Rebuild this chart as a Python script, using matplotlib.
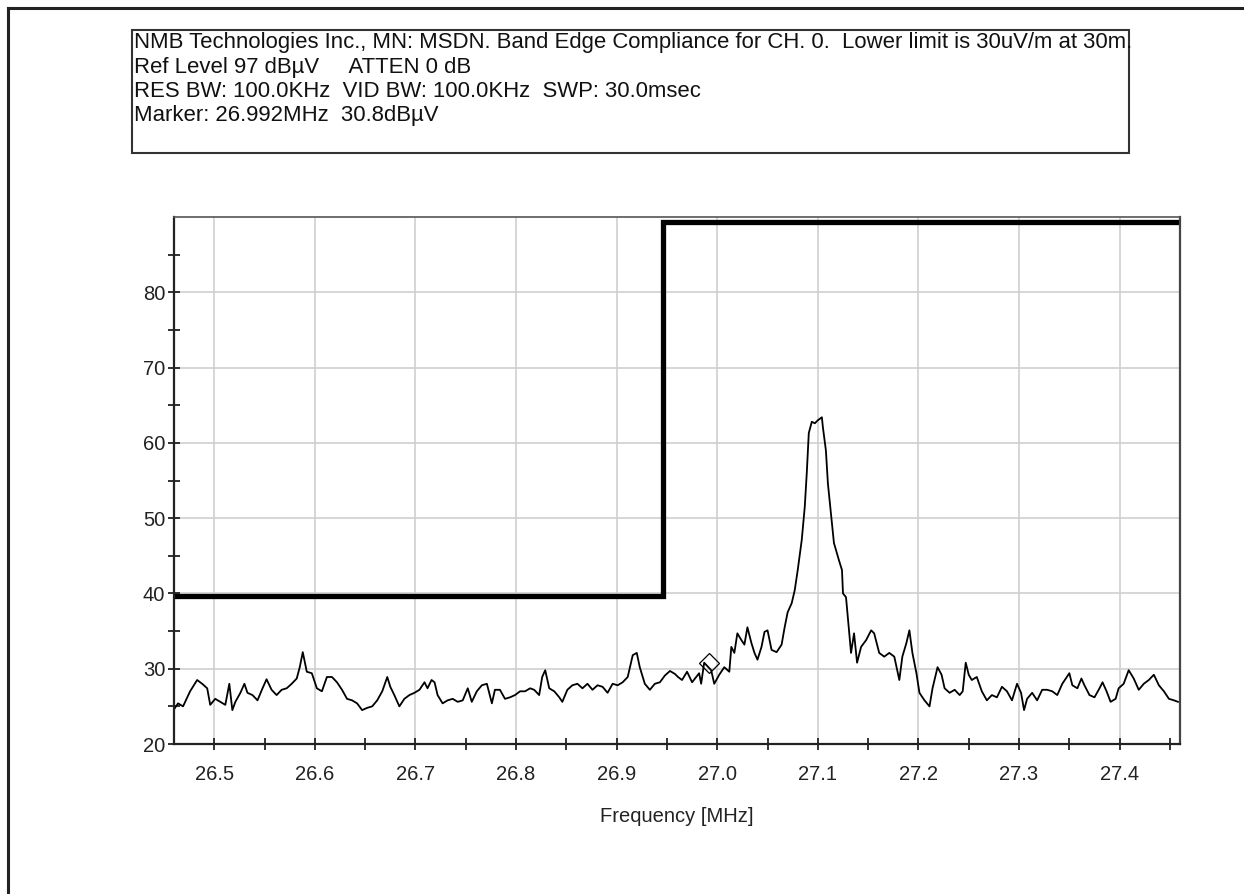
import matplotlib
matplotlib.use("Agg")
import matplotlib.pyplot as plt
from matplotlib.lines import Line2D
from matplotlib.patches import Rectangle
from matplotlib.ticker import MultipleLocator, FixedLocator, FormatStrFormatter

plt.rcParams['font.family'] = ['Liberation Sans', 'DejaVu Sans']

# spectrum trace
freq_mhz = [
    26.460, 26.464, 26.469, 26.476, 26.483, 26.488, 26.493, 26.496, 26.501, 26.506,
    26.511, 26.515, 26.518, 26.521, 26.526, 26.530, 26.533, 26.538, 26.543, 26.548,
    26.552, 26.557, 26.562, 26.567, 26.572, 26.577, 26.582, 26.585, 26.588, 26.590,
    26.592, 26.597, 26.602, 26.607, 26.612, 26.617, 26.622, 26.627, 26.632, 26.637,
    26.642, 26.647, 26.652, 26.657, 26.662, 26.667, 26.672, 26.675, 26.679, 26.684,
    26.689, 26.694, 26.699, 26.704, 26.709, 26.712, 26.716, 26.719, 26.722, 26.727,
    26.732, 26.737, 26.742, 26.747, 26.752, 26.756, 26.761, 26.766, 26.771, 26.776,
    26.779, 26.784, 26.789, 26.794, 26.799, 26.804, 26.809, 26.814, 26.818, 26.823,
    26.826, 26.829, 26.833, 26.838, 26.843, 26.846, 26.851, 26.856, 26.861, 26.866,
    26.871, 26.876, 26.881, 26.886, 26.891, 26.896, 26.901, 26.906, 26.911, 26.916,
    26.920, 26.923, 26.928, 26.933, 26.938, 26.943, 26.948, 26.953, 26.958, 26.961,
    26.965, 26.970, 26.975, 26.982, 26.984, 26.987, 26.994, 26.997, 27.002, 27.007,
    27.012, 27.014, 27.017, 27.020, 27.024, 27.027, 27.030, 27.034, 27.037, 27.040,
    27.044, 27.047, 27.050, 27.054, 27.059, 27.064, 27.067, 27.070, 27.074, 27.077,
    27.080, 27.084, 27.087, 27.089, 27.091, 27.094, 27.097, 27.100, 27.104, 27.105,
    27.108, 27.110, 27.113, 27.116, 27.121, 27.124, 27.125, 27.128, 27.131, 27.133,
    27.136, 27.139, 27.143, 27.148, 27.153, 27.156, 27.161, 27.166, 27.171, 27.176,
    27.181, 27.184, 27.188, 27.191, 27.194, 27.198, 27.201, 27.206, 27.211, 27.214,
    27.219, 27.223, 27.226, 27.231, 27.236, 27.241, 27.244, 27.247, 27.250, 27.253,
    27.258, 27.263, 27.268, 27.273, 27.278, 27.283, 27.288, 27.293, 27.298, 27.302,
    27.305, 27.308, 27.313, 27.318, 27.323, 27.328, 27.333, 27.338, 27.343, 27.350,
    27.353, 27.358, 27.362, 27.365, 27.370, 27.375, 27.380, 27.383, 27.387, 27.391,
    27.396, 27.399, 27.404, 27.409, 27.414, 27.419, 27.424, 27.429, 27.434, 27.439,
    27.444, 27.449, 27.454, 27.458,
]
level_dbuv = [
    24.6, 25.4, 25.0, 27.0, 28.5, 28.0, 27.4, 25.2, 26.0, 25.6,
    25.2, 28.0, 24.5, 25.6, 26.8, 28.0, 26.8, 26.5, 25.8, 27.4,
    28.6, 27.2, 26.5, 27.2, 27.4, 28.0, 28.7, 30.2, 32.2, 30.9,
    29.6, 29.4, 27.4, 27.0, 28.9, 28.9, 28.2, 27.2, 26.0, 25.8,
    25.4, 24.5, 24.8, 25.0, 25.8, 27.0, 28.9, 27.6, 26.5, 25.0,
    26.0, 26.5, 26.8, 27.2, 28.2, 27.4, 28.5, 28.2, 26.5, 25.4,
    25.8, 26.0, 25.6, 25.8, 27.4, 25.6, 27.0, 27.8, 28.0, 25.4,
    27.2, 27.2, 26.0, 26.2, 26.5, 27.0, 27.0, 27.4, 27.2, 26.5,
    28.9, 29.8, 27.4, 27.0, 26.2, 25.6, 27.2, 27.8, 28.0, 27.4,
    28.0, 27.2, 27.8, 27.6, 26.8, 28.0, 27.8, 28.2, 28.9, 31.8,
    32.1, 30.2, 28.0, 27.2, 28.0, 28.2, 29.1, 29.7, 29.3, 28.9,
    28.5, 29.6, 28.2, 29.4, 28.0, 30.8, 29.8, 28.0, 29.2, 30.2,
    29.6, 32.9, 32.1, 34.7, 33.8, 33.2, 35.5, 33.4, 32.1, 31.2,
    32.9, 34.9, 35.1, 32.5, 32.2, 33.2, 35.5, 37.5, 38.7, 40.4,
    43.1, 47.1, 51.5, 56.0, 61.3, 62.8, 62.6, 63.0, 63.4, 62.1,
    59.0, 54.6, 50.7, 46.7, 44.4, 43.1, 40.0, 39.5, 35.1, 32.1,
    34.7, 30.8, 32.9, 33.8, 35.1, 34.7, 32.1, 31.6, 32.1, 31.6,
    28.5, 31.6, 33.4, 35.1, 32.1, 29.4, 26.8, 25.8, 25.0, 27.4,
    30.2, 29.2, 27.4, 26.8, 27.2, 26.5, 27.0, 30.8, 29.2, 28.5,
    28.9, 27.0, 25.8, 26.5, 26.2, 27.6, 27.0, 25.8, 28.0, 26.8,
    24.5, 26.0, 26.8, 25.8, 27.2, 27.2, 27.0, 26.5, 28.0, 29.4,
    27.8, 27.4, 28.7, 27.8, 26.5, 26.2, 27.4, 28.2, 27.0, 25.6,
    26.0, 27.4, 28.0, 29.8, 28.7, 27.2, 28.0, 28.5, 29.2, 27.8,
    27.0, 26.0, 25.8, 25.6,
]

# band edge limit line
limit_freq = [26.46, 26.946, 26.946, 27.46]
limit_level = [39.6, 39.6, 89.4, 89.4]

marker_freq = 26.992
marker_level = 30.8

y_labels = [20, 30, 40, 50, 60, 70, 80]

header_lines = [
    "NMB Technologies Inc., MN: MSDN. Band Edge Compliance for CH. 0.  Lower limit is 30uV/m at 30m.",
    "Ref Level 97 dB\u00b5V     ATTEN 0 dB",
    "RES BW: 100.0KHz  VID BW: 100.0KHz  SWP: 30.0msec",
    "Marker: 26.992MHz  30.8dB\u00b5V",
]

W, H = 1244, 894
fig = plt.figure(figsize=(W / 100, H / 100), dpi=100)
fig.patch.set_facecolor("white")

# outer frame (top and left edges only)
fig.add_artist(Line2D([8 / W, 1.0], [1 - 8 / H, 1 - 8 / H], transform=fig.transFigure,
                      color="#222222", lw=2.2))
fig.add_artist(Line2D([8 / W, 8 / W], [0.0, 1 - 8 / H], transform=fig.transFigure,
                      color="#222222", lw=2.2))

# header box
fig.add_artist(Rectangle((132 / W, 1 - 153 / H), (1129 - 132) / W, (153 - 30) / H,
                         transform=fig.transFigure, fill=False, ec="#333333", lw=1.5))
for i, line in enumerate(header_lines):
    fig.text(134 / W, 1 - (48 + 24.5 * i) / H, line, fontsize=15.9, va="baseline",
             ha="left", color="#111111")

ax = fig.add_axes([174 / W, 1 - 744 / H, (1180 - 174) / W, (744 - 217) / H])

ax.plot(freq_mhz, level_dbuv, color="black", lw=1.3)
ax.plot(limit_freq, limit_level, color="black", lw=3.8, solid_joinstyle="miter")
ax.plot([marker_freq], [marker_level], marker="D", ms=10, mfc="none", mec="black", mew=0.9)

ax.set_xlim(26.46, 27.46)
ax.set_ylim(20, 90)
ax.xaxis.set_major_locator(MultipleLocator(0.1))
ax.xaxis.set_minor_locator(MultipleLocator(0.05))
ax.xaxis.set_major_formatter(FormatStrFormatter("%.1f"))
ax.yaxis.set_major_locator(FixedLocator(y_labels))
ax.yaxis.set_minor_locator(FixedLocator([25, 35, 45, 55, 65, 75, 85]))

ax.grid(True, which="major", color="#cfcfcf", lw=1.2)
ax.set_axisbelow(True)
ax.tick_params(which="both", direction="inout", length=8.5, width=1.3, color="#222222",
               labelsize=14.5, labelcolor="#222222")
ax.tick_params(axis="x", pad=11)
ax.tick_params(axis="y", pad=2)

for side in ["left", "bottom"]:
    ax.spines[side].set_color("#222222")
    ax.spines[side].set_linewidth(1.6)
ax.spines["top"].set_color("#555555")
ax.spines["top"].set_linewidth(1.2)
ax.spines["right"].set_color("#444444")
ax.spines["right"].set_linewidth(1.6)

ax.set_xlabel("Frequency [MHz]", fontsize=14.5, color="#222222", labelpad=16.5)

fig.savefig("out.png", dpi=100, facecolor="white")
